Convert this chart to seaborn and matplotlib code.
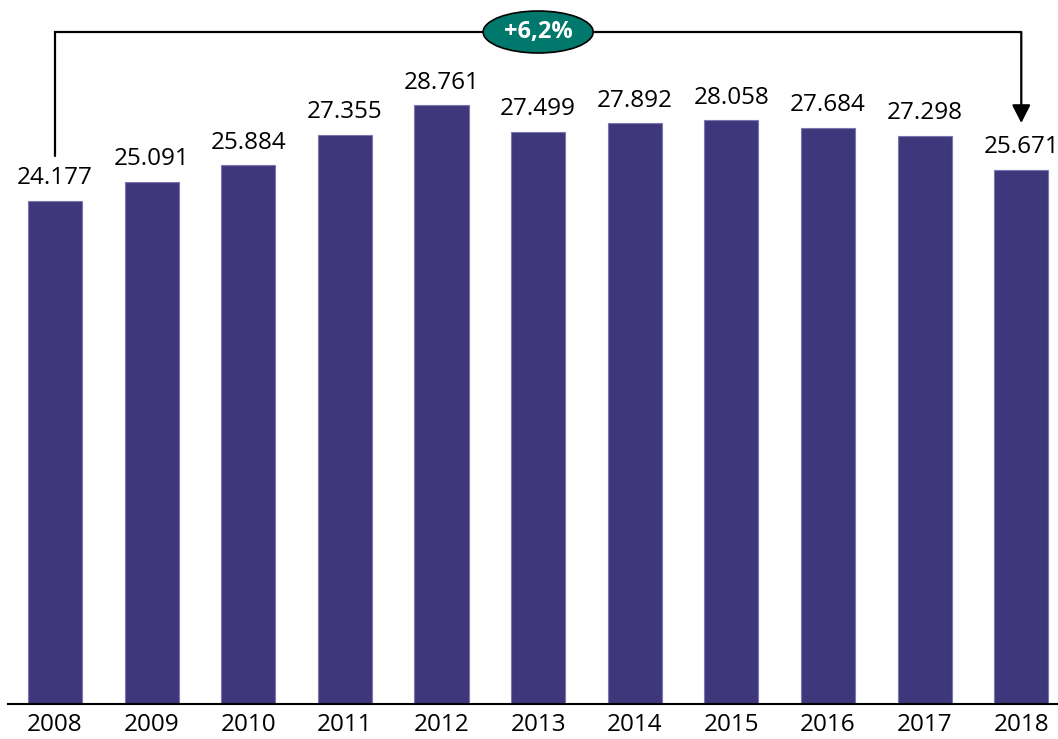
import matplotlib
matplotlib.use("Agg")
import matplotlib.pyplot as plt
from matplotlib.patches import Ellipse
import seaborn as sns
import pandas as pd

years = ["2008", "2009", "2010", "2011", "2012", "2013", "2014", "2015", "2016", "2017", "2018"]
values = [24177, 25091, 25884, 27355, 28761, 27499, 27892, 28058, 27684, 27298, 25671]
labels = ["24.177", "25.091", "25.884", "27.355", "28.761", "27.499", "27.892", "28.058", "27.684", "27.298", "25.671"]
change_label = "+6,2%"

sns.set_theme(style="white")
plt.rcParams["font.family"] = ["Open Sans", "DejaVu Sans"]

W, H = 1058, 739
fig = plt.figure(figsize=(W / 100, H / 100), dpi=100)
ax = fig.add_axes([8 / W, (H - 703.5) / H, 1050 / W, 703.5 / H])

df = pd.DataFrame({"year": years, "value": values})
sns.barplot(data=df, x="year", y="value", color="#3E377B", saturation=1,
            width=0.56, edgecolor="#7B76B0", linewidth=0.8, ax=ax)

ax.set_xlim(-0.487, 10.38)
ax.set_ylim(0, 33827)

for i, (v, lab) in enumerate(zip(values, labels)):
    ax.annotate(lab, xy=(i, v), xytext=(0, 7.5), textcoords="offset points",
                ha="center", va="bottom", fontsize=17.5, color="black")

# bracket annotation
top = 32288
ax.plot([0, 0, 10], [values[0] + 2150, top, top], color="black", lw=1.6,
        solid_joinstyle="miter", clip_on=False)
ax.annotate("", xy=(10, values[-1] + 2240), xytext=(10, top),
            arrowprops=dict(arrowstyle="-|>,head_length=0.55,head_width=0.28",
                            mutation_scale=20, lw=1.6, color="black",
                            shrinkA=0, shrinkB=0), annotation_clip=False)

ell = Ellipse((5, top), width=110 / 96.6, height=42 / 0.020797,
              facecolor="#00786C", edgecolor="black", lw=1.2, zorder=5, clip_on=False)
ax.add_patch(ell)
ax.text(5, top, change_label, ha="center", va="center", color="white",
        fontsize=17, fontweight="bold", zorder=6)

ax.set_xlabel("")
ax.set_ylabel("")
ax.set_yticks([])
for s in ["left", "right", "top"]:
    ax.spines[s].set_visible(False)
ax.spines["bottom"].set_color("black")
ax.spines["bottom"].set_linewidth(1.5)
ax.tick_params(axis="x", length=0, labelsize=17.5, pad=7, colors="black")

fig.savefig("out.png", dpi=100)
